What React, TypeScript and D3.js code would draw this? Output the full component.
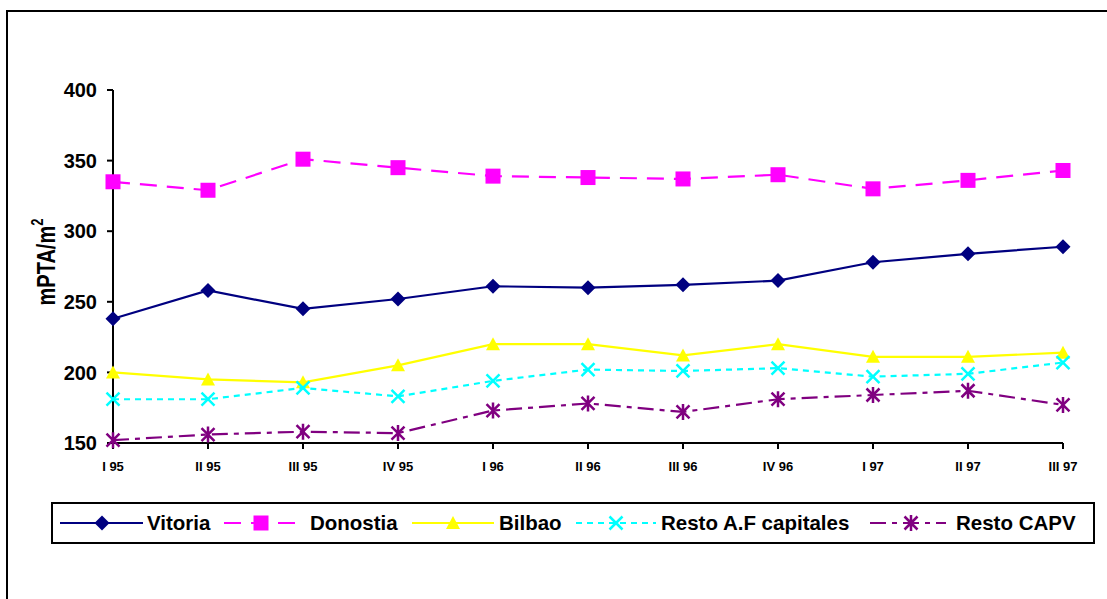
import React from "react";
import * as d3 from "d3";

// Quarter labels along the x axis
const quarters = ["I 95", "II 95", "III 95", "IV 95", "I 96", "II 96", "III 96", "IV 96", "I 97", "II 97", "III 97"];

// Price per square metre (thousand pesetas) by area and quarter
const vitoria = [238, 258, 245, 252, 261, 260, 262, 265, 278, 284, 289];
const donostia = [335, 329, 351, 345, 339, 338, 337, 340, 330, 336, 343];
const bilbao = [200, 195, 193, 205, 220, 220, 212, 220, 211, 211, 214];
const restoAF = [181, 181, 189, 183, 194, 202, 201, 203, 197, 199, 207];
const restoCAPV = [152, 156, 158, 157, 173, 178, 172, 181, 184, 187, 177];

const yTicks = [150, 200, 250, 300, 350, 400];

type Marker = "diamond" | "square" | "triangle" | "cross" | "asterisk";

interface Series {
  name: string;
  values: number[];
  color: string;
  dash: string;
  marker: Marker;
}

const series: Series[] = [
  { name: "Vitoria", values: vitoria, color: "#000080", dash: "none", marker: "diamond" },
  { name: "Donostia", values: donostia, color: "#FF00FF", dash: "17,10", marker: "square" },
  { name: "Bilbao", values: bilbao, color: "#FFFF00", dash: "none", marker: "triangle" },
  { name: "Resto A.F capitales", values: restoAF, color: "#00FFFF", dash: "6,5", marker: "cross" },
  { name: "Resto CAPV", values: restoCAPV, color: "#800080", dash: "16,6,5,6", marker: "asterisk" },
];

const FONT = "'Liberation Sans', Arial, Helvetica, sans-serif";

const margin = { left: 113, right: 1063, top: 90, bottom: 443 };

const x = d3
  .scalePoint<string>()
  .domain(quarters)
  .range([margin.left, margin.right]);

const y = d3.scaleLinear().domain([150, 400]).range([margin.bottom, margin.top]);

function MarkerShape({ kind, cx, cy, color }: { kind: Marker; cx: number; cy: number; color: string }) {
  switch (kind) {
    case "diamond":
      return (
        <path
          d={`M${cx},${cy - 7.5} L${cx + 7.5},${cy} L${cx},${cy + 7.5} L${cx - 7.5},${cy} Z`}
          fill={color}
        />
      );
    case "square":
      return <rect x={cx - 7.5} y={cy - 7.5} width={15} height={15} fill={color} />;
    case "triangle":
      return (
        <path d={`M${cx},${cy - 7} L${cx + 7},${cy + 6} L${cx - 7},${cy + 6} Z`} fill={color} />
      );
    case "cross":
      return (
        <path
          d={`M${cx - 6.5},${cy - 6.5} L${cx + 6.5},${cy + 6.5} M${cx + 6.5},${cy - 6.5} L${cx - 6.5},${cy + 6.5}`}
          stroke={color}
          strokeWidth={2.5}
          fill="none"
        />
      );
    case "asterisk":
      return (
        <path
          d={`M${cx - 6.5},${cy - 6.5} L${cx + 6.5},${cy + 6.5} M${cx + 6.5},${cy - 6.5} L${cx - 6.5},${cy + 6.5} M${cx},${cy - 8} L${cx},${cy + 8}`}
          stroke={color}
          strokeWidth={2.5}
          fill="none"
        />
      );
  }
}

// Legend entries: line start, marker centre, line end, text start
const legendItems = [
  { x0: 60, xm: 102, x1: 143, tx: 147 },
  { x0: 224, xm: 261, x1: 298, tx: 310 },
  { x0: 412, xm: 453, x1: 494, tx: 499 },
  { x0: 576, xm: 616, x1: 656, tx: 661 },
  { x0: 870, xm: 911, x1: 946, tx: 956 },
];

export default function App() {
  const line = d3
    .line<number>()
    .x((_, i) => x(quarters[i]) as number)
    .y((v) => y(v));

  const legendY = 523;

  return (
    <svg
      width={1107}
      height={599}
      style={{ position: "absolute", left: 0, top: 0, background: "#fff" }}
      fontFamily={FONT}
    >
      <rect x={0} y={0} width={1107} height={599} fill="#fff" />
      {/* outer chart frame */}
      <rect x={7} y={11} width={1110} height={600} fill="none" stroke="#000" strokeWidth={2} />

      {/* y axis */}
      <line x1={margin.left} x2={margin.left} y1={margin.top} y2={margin.bottom} stroke="#000" strokeWidth={2} />
      {yTicks.map((t) => (
        <g key={t}>
          <line x1={margin.left - 6} x2={margin.left} y1={y(t)} y2={y(t)} stroke="#000" strokeWidth={2} />
          <text
            x={97}
            y={y(t)}
            dy="0.36em"
            textAnchor="end"
            fontSize={20}
            fontWeight="bold"
            fill="#000"
          >
            {t}
          </text>
        </g>
      ))}

      {/* x axis */}
      <line x1={margin.left} x2={margin.right} y1={margin.bottom} y2={margin.bottom} stroke="#000" strokeWidth={2} />
      {quarters.map((q) => (
        <g key={q}>
          <line x1={x(q)} x2={x(q)} y1={margin.bottom} y2={margin.bottom + 6} stroke="#000" strokeWidth={2} />
          <text
            x={x(q)}
            y={466}
            dy="0.36em"
            textAnchor="middle"
            fontSize={13}
            fontWeight="bold"
            fill="#000"
          >
            {q}
          </text>
        </g>
      ))}

      {/* y axis title, drawn with taller glyphs */}
      <text
        transform={`translate(55, 262) rotate(-90) scale(1, 1.3)`}
        textAnchor="middle"
        fontSize={20}
        fontWeight="bold"
        fill="#000"
      >
        mPTA/m
        <tspan fontSize={13} dy={-9}>
          2
        </tspan>
      </text>

      {/* series */}
      {series.map((s) => (
        <g key={s.name}>
          <path
            d={line(s.values) ?? ""}
            fill="none"
            stroke={s.color}
            strokeWidth={2.2}
            strokeDasharray={s.dash}
          />
          {s.values.map((v, i) => (
            <MarkerShape key={i} kind={s.marker} cx={x(quarters[i]) as number} cy={y(v)} color={s.color} />
          ))}
        </g>
      ))}

      {/* legend */}
      <rect x={52} y={503} width={1042} height={40} fill="#fff" stroke="#000" strokeWidth={2} />
      {series.map((s, i) => {
        const it = legendItems[i];
        return (
          <g key={s.name}>
            <line
              x1={it.x0}
              x2={it.x1}
              y1={legendY}
              y2={legendY}
              stroke={s.color}
              strokeWidth={2.2}
              strokeDasharray={s.dash}
            />
            <MarkerShape kind={s.marker} cx={it.xm} cy={legendY} color={s.color} />
            <text x={it.tx} y={legendY} dy="0.36em" fontSize={20.5} fontWeight="bold" fill="#000">
              {s.name}
            </text>
          </g>
        );
      })}
    </svg>
  );
}
